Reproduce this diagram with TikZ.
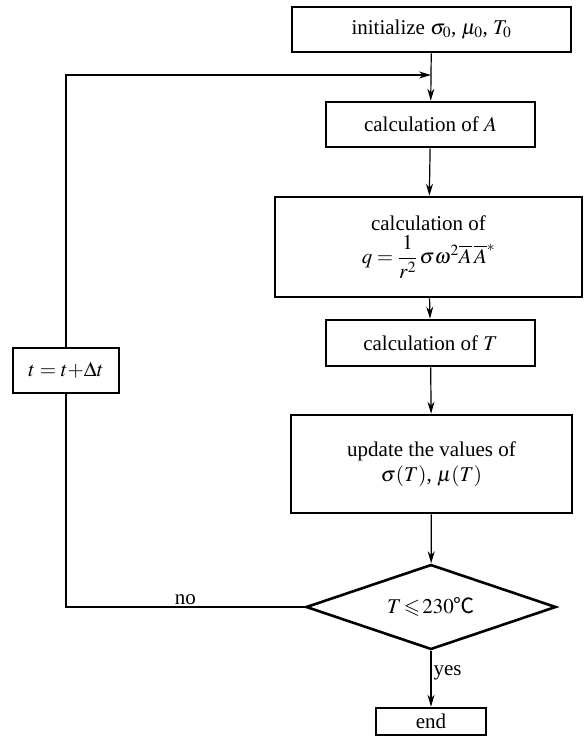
\documentclass[tikz,border=0pt]{standalone}
\usepackage{mathptmx}
\usepackage{amssymb}
\usepackage{fontspec}
\setmainfont{Liberation Serif}
\newfontfamily\cjk{Noto Sans CJK SC}
\usetikzlibrary{arrows.meta, shapes.geometric}

\begin{document}
\begin{tikzpicture}[
  x=1pt, y=-1pt, >={Stealth[length=12pt, width=7pt]}, line width=1.2pt,
  every node/.style={font=\fontsize{21}{25}\selectfont},
  stepbox/.style={rectangle, draw, line width=2.6pt, align=center, inner sep=2pt},
  test/.style={diamond, draw, line width=2.6pt, inner sep=0pt, aspect=2.94,
    minimum width=250pt, minimum height=85pt},
  lab/.style={inner sep=2pt}
]
  \useasboundingbox (0,0) rectangle (584,736);
  % Boucle principale au centre, retour par la gauche.
  \node[stepbox, minimum width=279pt, minimum height=45pt] (init) at (431.5,29.5)
    {initialize $\sigma_0$, $\mu_0$, $T_0$};
  \node[stepbox, minimum width=209pt, minimum height=45pt] (calcA) at (430.5,124.5)
    {calculation of $A$};
  \node[stepbox, minimum width=307pt, minimum height=100pt] (calcq) at (428.5,247)
    {calculation of\\[4pt] $q=\displaystyle\frac{1}{r^2}\,\sigma\omega^2\overline{A}\,\overline{A}^{*}$};
  \node[stepbox, minimum width=209pt, minimum height=46pt] (calcT) at (430.5,343)
    {calculation of $T$};
  \node[stepbox, minimum width=281pt, minimum height=98pt] (upd) at (431.5,464)
    {update the values of\\ $\sigma(T)$, $\mu(T)$};
  \node[test] (cond) at (431,607) {$T\!\leqslant\!230${\cjk ℃}};
  \node[stepbox, minimum width=110pt, minimum height=27pt] (fin) at (431,721.5) {end};
  \node[stepbox, minimum width=106pt, minimum height=45pt] (incr) at (66,370.5)
    {$t=t{+}\Delta t$};

  \coordinate (join) at (431,75);
  \coordinate (tl) at (66,75);
  \coordinate (bl) at (66,607);

  \draw (init) -- (join);
  \draw[->] (join) -- (calcA);
  \draw[->] (calcA) -- (calcq);
  \draw[->] (calcq) -- (calcT);
  \draw[->] (calcT) -- (upd);
  \draw[->] (upd) -- (cond);
  \draw[->] (cond) -- node[lab, right, pos=0.4] {yes} (fin);
  \draw (cond.west) -- node[lab, above, pos=0.5] {no} (bl) -- (incr);
  \draw[->] (incr) -- (tl) -- (join);
\end{tikzpicture}
\end{document}
